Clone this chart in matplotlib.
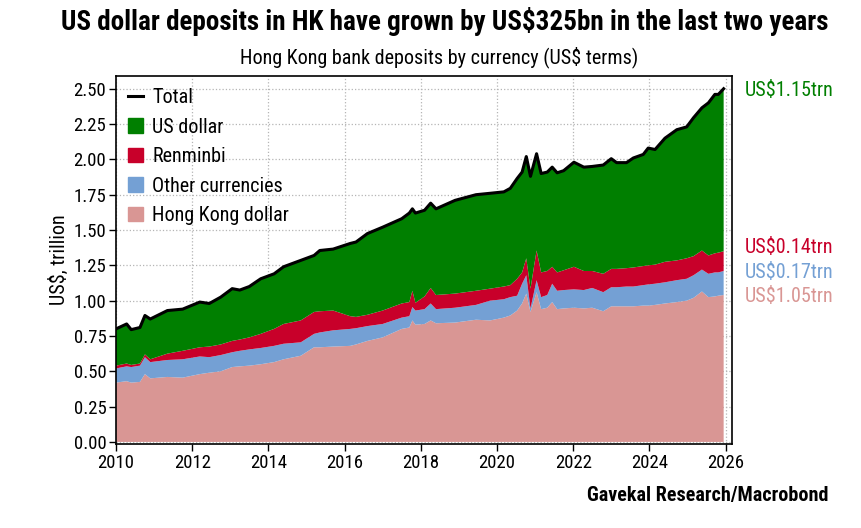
import matplotlib
matplotlib.use("Agg")
import numpy as np
import matplotlib.pyplot as plt
from matplotlib.lines import Line2D
from matplotlib.patches import Patch

plt.rcParams['font.family'] = ['Roboto Condensed', 'Roboto', 'DejaVu Sans']

# Dates (decimal years) and deposits by currency, US$ trillion
dates = [2010.00, 2010.28, 2010.40, 2010.63, 2010.76, 2010.90, 2011.35, 2011.75,
         2012.20, 2012.45, 2012.75, 2013.05, 2013.25, 2013.50, 2013.80, 2014.15,
         2014.40, 2014.85, 2015.20, 2015.35, 2015.70, 2016.15, 2016.30, 2016.60,
         2017.00, 2017.50, 2017.70, 2017.78, 2017.86, 2018.10, 2018.26, 2018.40,
         2018.90, 2019.45, 2019.82, 2020.18, 2020.35, 2020.53, 2020.66, 2020.77,
         2020.88, 2021.04, 2021.16, 2021.32, 2021.45, 2021.58, 2021.75, 2022.02,
         2022.28, 2022.50, 2022.79, 2023.00, 2023.14, 2023.40, 2023.58, 2023.84,
         2023.97, 2024.15, 2024.41, 2024.72, 2024.98, 2025.16, 2025.38, 2025.55,
         2025.72, 2025.81, 2025.95]

hkd = [0.42, 0.43, 0.42, 0.425, 0.48, 0.45, 0.46, 0.455,
       0.48, 0.49, 0.50, 0.53, 0.535, 0.54, 0.55, 0.565,
       0.585, 0.61, 0.67, 0.67, 0.675, 0.68, 0.69, 0.715,
       0.74, 0.80, 0.81, 0.86, 0.83, 0.835, 0.86, 0.84,
       0.845, 0.865, 0.86, 0.88, 0.895, 0.93, 0.98, 1.05,
       0.92, 1.06, 0.94, 0.95, 0.99, 0.94, 0.945, 0.95,
       0.945, 0.95, 0.925, 0.96, 0.96, 0.96, 0.96, 0.965,
       0.965, 0.97, 0.98, 0.99, 1.00, 1.02, 1.065, 1.025,
       1.03, 1.035, 1.04]

other = [0.10, 0.105, 0.11, 0.115, 0.12, 0.115, 0.12, 0.13,
         0.125, 0.11, 0.115, 0.105, 0.11, 0.115, 0.115, 0.115,
         0.11, 0.095, 0.095, 0.105, 0.115, 0.12, 0.115, 0.105,
         0.095, 0.08, 0.08, 0.095, 0.10, 0.105, 0.12, 0.10,
         0.105, 0.105, 0.14, 0.13, 0.13, 0.105, 0.14, 0.13,
         0.025, 0.085, 0.085, 0.09, 0.13, 0.13, 0.13, 0.13,
         0.13, 0.14, 0.135, 0.135, 0.135, 0.14, 0.14, 0.145,
         0.15, 0.15, 0.15, 0.155, 0.155, 0.16, 0.155, 0.165,
         0.17, 0.165, 0.17]

rmb = [0.02, 0.02, 0.015, 0.015, 0.02, 0.02, 0.045, 0.06,
       0.065, 0.075, 0.075, 0.08, 0.08, 0.085, 0.10, 0.12,
       0.14, 0.155, 0.155, 0.15, 0.14, 0.09, 0.08, 0.08,
       0.095, 0.10, 0.10, 0.115, 0.055, 0.09, 0.11, 0.10,
       0.10, 0.10, 0.085, 0.09, 0.085, 0.12, 0.08, 0.12,
       0.14, 0.21, 0.175, 0.17, 0.12, 0.13, 0.14, 0.16,
       0.135, 0.12, 0.13, 0.13, 0.13, 0.13, 0.135, 0.135,
       0.135, 0.135, 0.145, 0.14, 0.145, 0.135, 0.135, 0.13,
       0.135, 0.14, 0.14]

usd = [0.26, 0.28, 0.25, 0.255, 0.275, 0.285, 0.305, 0.295,
       0.32, 0.305, 0.335, 0.37, 0.35, 0.36, 0.39, 0.39,
       0.405, 0.425, 0.40, 0.43, 0.435, 0.515, 0.53, 0.575,
       0.59, 0.60, 0.63, 0.58, 0.635, 0.61, 0.60, 0.61,
       0.66, 0.68, 0.675, 0.67, 0.685, 0.71, 0.71, 0.72,
       0.795, 0.685, 0.70, 0.70, 0.705, 0.705, 0.705, 0.74,
       0.735, 0.74, 0.77, 0.78, 0.752, 0.747, 0.775, 0.79,
       0.83, 0.815, 0.875, 0.925, 0.93, 0.98, 1.01, 1.08,
       1.125, 1.12, 1.15]

c_hkd = '#d99694'
c_other = '#74a0d4'
c_rmb = '#c8002a'
c_usd = '#007f00'

total = np.array(hkd) + np.array(other) + np.array(rmb) + np.array(usd)

fig = plt.figure(figsize=(8.61, 5.28), dpi=100)
ax = fig.add_axes([0.1347, 0.159, 0.7155, 0.697])

ax.stackplot(dates, hkd, other, rmb, usd,
             colors=[c_hkd, c_other, c_rmb, c_usd], linewidth=0)
ax.plot(dates, total, color='black', lw=2.2)

ax.set_xlim(2010, 2026.17)
ax.set_ylim(-0.015, 2.59)
ax.set_xticks(range(2010, 2027, 2))
ax.set_yticks(np.arange(0, 2.51, 0.25))
ax.yaxis.set_major_formatter(matplotlib.ticker.FormatStrFormatter('%.2f'))
ax.tick_params(direction='out', length=5, width=1, labelsize=13.5, pad=2)
ax.grid(True, color='#b5b5b5', linestyle=':', linewidth=0.9)
ax.set_axisbelow(True)
for s in ax.spines.values():
    s.set_linewidth(1.2)
ax.set_ylabel('US$, trillion', fontsize=14.5, labelpad=3)

handles = [Line2D([0], [0], color='black', lw=2.2),
           Patch(color=c_usd), Patch(color=c_rmb),
           Patch(color=c_other), Patch(color=c_hkd)]
labels = ['Total', 'US dollar', 'Renminbi', 'Other currencies', 'Hong Kong dollar']
ax.legend(handles, labels, loc='upper left', frameon=False, fontsize=14.5,
          handlelength=0.75, handleheight=0.75, handletextpad=0.45,
          labelspacing=0.52, borderaxespad=0.4, borderpad=0.2)

# end values at right
ax.text(1.02, 0.962, 'US$1.15trn', transform=ax.transAxes, color=c_usd, fontsize=14.5, va='center')
ax.text(1.02, 0.535, 'US$0.14trn', transform=ax.transAxes, color=c_rmb, fontsize=14.5, va='center')
ax.text(1.02, 0.467, 'US$0.17trn', transform=ax.transAxes, color=c_other, fontsize=14.5, va='center')
ax.text(1.02, 0.400, 'US$1.05trn', transform=ax.transAxes, color=c_hkd, fontsize=14.5, va='center')

fig.text(0.517, 0.96, 'US dollar deposits in HK have grown by US$325bn in the last two years',
         ha='center', va='center', fontsize=19.5, fontweight='bold')
fig.text(0.51, 0.892, 'Hong Kong bank deposits by currency (US$ terms)',
         ha='center', va='center', fontsize=14.5)
fig.text(0.962, 0.0625, 'Gavekal Research/Macrobond', ha='right', va='center',
         fontsize=14.5, fontweight='bold')

fig.savefig('out.png', dpi=100)
